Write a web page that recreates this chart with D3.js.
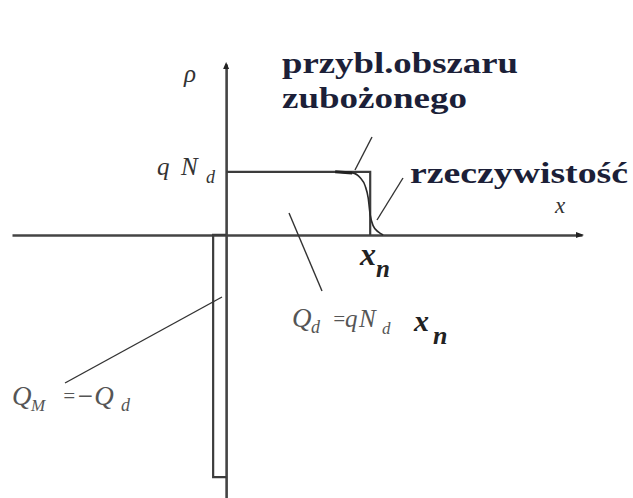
<!DOCTYPE html>
<html><head><meta charset="utf-8">
<script src="https://cdn.jsdelivr.net/npm/d3@7"></script>
<style>
html,body{margin:0;padding:0;background:#fff;}
svg{display:block;}
</style></head>
<body>
<svg id="c" width="633" height="498"></svg>
<script>
// ---- data (x in units of x_n, rho in units of qN_d) ----
const xDomain = [-1.486, 2.47];
const rhoDomain = [-4.17, 2.71];
const approxX = [0, 1, 1];               // depletion-approximation profile
const approxRho = [1, 1, 0];
const realX = [0.757, 0.875, 0.931, 0.965, 0.986, 1.0, 1.021, 1.056, 1.09]; // real profile
const realRho = [1.0, 0.984, 0.905, 0.778, 0.587, 0.317, 0.143, 0.048, 0.0];
const metalX = [0, -0.09, -0.09, 0];     // metal charge sheet
const metalRho = [0, 0, -3.84, -3.84];
const labelsBold = ["przybl.obszaru", "zubożonego", "rzeczywistość"];
const axisLabels = ["ρ", "x"];

const svg = d3.select("#c");
const x = d3.scaleLinear().domain(xDomain).range([12, 582]);
const y = d3.scaleLinear().domain(rhoDomain).range([498, 64]);
const FONT = '"Liberation Serif"';

// axes (no ticks)
const gx = svg.append("g").attr("transform", `translate(0,${y(0)})`)
  .call(d3.axisBottom(x).tickValues([]).tickSizeOuter(0));
const gy = svg.append("g").attr("transform", `translate(${x(0)},0)`)
  .call(d3.axisLeft(y).tickValues([]).tickSizeOuter(0));
[gx, gy].forEach(g => g.select(".domain").attr("stroke", "#444").attr("stroke-width", 2.6));

// arrowheads
svg.append("path").attr("d", `M${x(xDomain[1])+2},${y(0)} l-8,-3 l0,6 z`).attr("fill", "#222");
svg.append("path").attr("d", `M${x(0)},${y(rhoDomain[1])-2} l-3,7 l6,0 z`).attr("fill", "#222");

const line = d3.line().x(d => x(d[0])).y(d => y(d[1]));

// approximation profile
svg.append("path").datum(approxX.map((v,i)=>[v, approxRho[i]]))
  .attr("d", line).attr("fill","none").attr("stroke","#3c3c3c").attr("stroke-width",2.2);
// metal sheet
svg.append("path").datum(metalX.map((v,i)=>[v, metalRho[i]]))
  .attr("d", line).attr("fill","none").attr("stroke","#3c3c3c").attr("stroke-width",2.2);
// real profile
svg.append("path").datum(realX.map((v,i)=>[v, realRho[i]]))
  .attr("d", d3.line().x(d=>x(d[0])).y(d=>y(d[1])).curve(d3.curveMonotoneX))
  .attr("fill","none").attr("stroke","#2a2a2a").attr("stroke-width",1.6);
// thick start of real profile
svg.append("path").datum(realX.slice(0,2).map((v,i)=>[v, realRho[i]]))
  .attr("d", line).attr("fill","none").attr("stroke","#222").attr("stroke-width",3);

// pointer lines
const ptr = [[372,137,355,170],[403,178,377,220],[289,213,322,291],[65,383,222,297]];
svg.selectAll("line.ptr").data(ptr).enter().append("line").attr("class","ptr")
  .attr("x1",d=>d[0]).attr("y1",d=>d[1]).attr("x2",d=>d[2]).attr("y2",d=>d[3])
  .attr("stroke","#333").attr("stroke-width",1.4);

// bold annotations (wide serif: stretched to the reference widths)
const bold = (t, px, py, w) => svg.append("text").text(t).attr("x",px).attr("y",py)
  .attr("textLength", w).attr("lengthAdjust","spacingAndGlyphs")
  .style("font-family", FONT).style("font-weight","bold").style("font-size","30px")
  .attr("fill","#1c1f38");
bold(labelsBold[0], 282, 73, 236);
bold(labelsBold[1], 282, 108, 185);
bold(labelsBold[2], 410, 183, 218);

// italic math labels: one text per formula, pieces as positioned tspans
const formula = (parts, fill) => {
  const t = svg.append("text").style("font-family", FONT).style("font-style","italic")
    .attr("fill", fill);
  parts.forEach(p => t.append("tspan").attr("x", p[1]).attr("y", p[2])
    .style("font-size", p[3] + "px").style("font-weight", p[4] ? "bold" : "normal")
    .attr("fill", p[4] ? "#222" : null).text(p[0]));
  return t;
};
formula([[axisLabels[0], 184, 82, 25]], "#333");
formula([[axisLabels[1], 555, 213, 23]], "#333");
formula([["q", 157, 175, 25], ["N", 181, 175, 25], ["d", 206, 183, 18]], "#333");
formula([["x", 360, 265, 32, true], ["n", 376, 277, 25, true]], "#222");
formula([["Q", 292, 327, 27], ["d", 311, 333, 18], ["=", 332, 326, 21],
         ["q", 345, 327, 25], ["N", 359, 327, 25], ["d", 382, 334, 17],
         ["x", 414, 331, 30, true], ["n", 433, 344, 26, true]], "#555");
formula([["Q", 12, 405, 27], ["M", 31, 411, 17], ["=", 62, 403, 21],
         ["−Q", 76, 405, 27], ["d", 121, 411, 18]], "#555");
</script>
</body></html>
